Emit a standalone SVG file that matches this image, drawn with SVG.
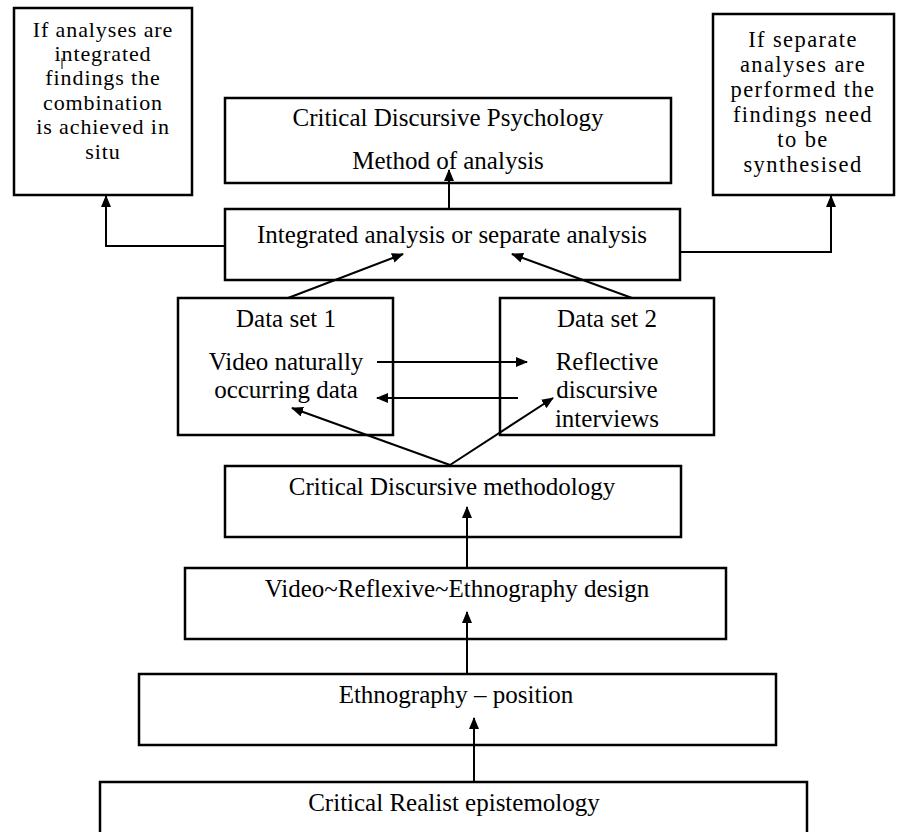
<svg xmlns="http://www.w3.org/2000/svg" width="898" height="832" viewBox="0 0 898 832" font-family="'Liberation Serif', 'Times New Roman', serif">
<style>
.box{fill:#fff;stroke:#000;stroke-width:2.5}
text{font-family:'Liberation Serif','Times New Roman',serif;font-size:25px;fill:#000;text-anchor:middle}
.s{font-size:22px;letter-spacing:0.9px}
.s2{font-size:22.5px;letter-spacing:1.4px}
.c{fill:none;stroke:#000;stroke-width:2}
</style>
<defs>
<marker id="ah" markerWidth="12" markerHeight="10" refX="11" refY="5" orient="auto" markerUnits="userSpaceOnUse">
<path d="M0,0 L12,5 L0,10 Z" fill="#000"/>
</marker>
</defs>
<rect width="898" height="832" fill="#fff"/>
<g id="n-integrated-findings">
<rect class="box" x="14" y="8" width="178" height="187"/>
<text class="s" x="103" y="36.5">If analyses are</text>
<text class="s" x="103" y="60.9">integrated</text>
<text class="s" x="103" y="85.3">findings the</text>
<text class="s" x="103" y="109.7">combination</text>
<text class="s" x="103" y="134.1">is achieved in</text>
<text class="s" x="103" y="158.5">situ</text>
<path d="M62,58 V69" stroke="#000" stroke-width="1"/>
</g>
<g id="n-cdp">
<rect class="box" x="225" y="98" width="446" height="85"/>
<text x="448" y="126">Critical Discursive Psychology</text>
<text x="448" y="169">Method of analysis</text>
</g>
<g id="n-separate-findings">
<rect class="box" x="713" y="14" width="181" height="181"/>
<text class="s2" x="803" y="47">If separate</text>
<text class="s2" x="803" y="72">analyses are</text>
<text class="s2" x="803" y="97">performed the</text>
<text class="s2" x="803" y="122">findings need</text>
<text class="s2" x="803" y="147">to be</text>
<text class="s2" x="803" y="172">synthesised</text>
</g>
<g id="n-integrated">
<rect class="box" x="225" y="209" width="455" height="71"/>
<text x="452" y="243">Integrated analysis or separate analysis</text>
</g>
<g id="n-ds1">
<rect class="box" x="178" y="298" width="215" height="137"/>
<text x="286" y="327">Data set 1</text>
<text x="286" y="370">Video naturally</text>
<text x="286" y="398">occurring data</text>
</g>
<g id="n-ds2">
<rect class="box" x="500" y="298" width="214" height="137"/>
<text x="607" y="327">Data set 2</text>
<text x="607" y="370">Reflective</text>
<text x="607" y="398">discursive</text>
<text x="607" y="427">interviews</text>
</g>
<g id="n-cdm">
<rect class="box" x="225" y="466" width="456" height="71"/>
<text x="452" y="495">Critical Discursive methodology</text>
</g>
<g id="n-vre">
<rect class="box" x="185" y="568" width="541" height="71"/>
<text x="457" y="597">Video~Reflexive~Ethnography design</text>
</g>
<g id="n-ethno">
<rect class="box" x="139" y="674" width="637" height="71"/>
<text x="456" y="703">Ethnography – position</text>
</g>
<g id="n-cr">
<rect class="box" x="100" y="782" width="707" height="70"/>
<text x="454" y="811">Critical Realist epistemology</text>
</g>
<g id="connectors">
<path class="c" d="M225,246 H106 V196" marker-end="url(#ah)"/>
<path class="c" d="M680,252 H831 V196" marker-end="url(#ah)"/>
<path class="c" d="M449,209 V170" marker-end="url(#ah)"/>
<path class="c" d="M288,298 L403,254" marker-end="url(#ah)"/>
<path class="c" d="M632,298 L512,254" marker-end="url(#ah)"/>
<path class="c" d="M377,362 H527" marker-end="url(#ah)"/>
<path class="c" d="M518,398 H377" marker-end="url(#ah)"/>
<path class="c" d="M450,465 L292,408" marker-end="url(#ah)"/>
<path class="c" d="M450,465 L553,398" marker-end="url(#ah)"/>
<path class="c" d="M467,568 V507" marker-end="url(#ah)"/>
<path class="c" d="M467,674 V612" marker-end="url(#ah)"/>
<path class="c" d="M474,782 V718" marker-end="url(#ah)"/>
</g>
</svg>
